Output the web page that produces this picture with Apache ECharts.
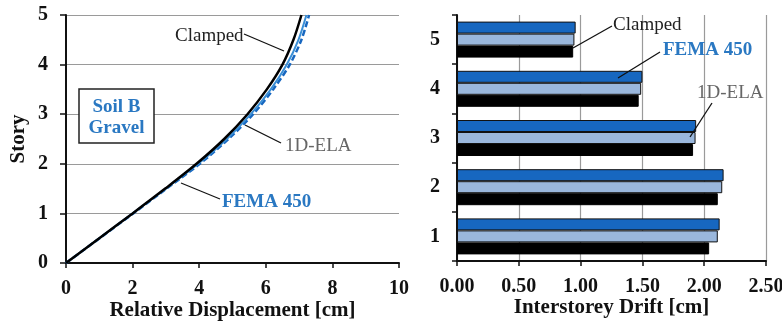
<!DOCTYPE html>
<html><head><meta charset="utf-8">
<script src="https://cdn.jsdelivr.net/npm/echarts@6/dist/echarts.min.js"></script>
<style>html,body{margin:0;padding:0;background:#fff}#c{width:782px;height:322px}</style>
</head><body><div id="c"></div>
<script>
// Left panel: relative displacement profile
const stories = [0, 0.5, 1, 1.5, 2, 2.5, 3, 3.5, 4, 4.5, 5];
const dispClamped = [0, 1.0, 2.0, 2.98, 3.92, 4.75, 5.45, 6.03, 6.5, 6.83, 7.07];
const dispFema = [0, 1.0, 2.0, 3.0, 3.97, 4.83, 5.55, 6.15, 6.63, 6.98, 7.22];
const dispEla = [0, 1.01, 2.02, 3.02, 4.02, 4.88, 5.62, 6.22, 6.72, 7.07, 7.3];
const dispTicks = [0, 2, 4, 6, 8, 10];
const storyTicks = [0, 1, 2, 3, 4, 5];

// Right panel: interstorey drift
const driftCategories = ['1', '2', '3', '4', '5'];
const driftFema = [2.125, 2.157, 1.935, 1.50, 0.96];
const driftEla = [2.11, 2.146, 1.93, 1.49, 0.95];
const driftClamped = [2.04, 2.11, 1.91, 1.47, 0.94];
const driftTicks = ['0.00', '0.50', '1.00', '1.50', '2.00', '2.50'];

const serif = '"Liberation Serif", "DejaVu Serif", serif';
const blue = '#1767c0';
const lightBlue = '#9ab7dc';
const textBlue = '#2a78c2';

function pairs(xs) { return xs.map((x, i) => [x, stories[i]]); }

const chart = echarts.init(document.getElementById('c'), null, {renderer: 'canvas'});
const tickLabelL = {fontFamily: serif, fontWeight: 'bold', fontSize: 20, color: '#111'};
const tickLabelR = {fontFamily: serif, fontWeight: 'bold', fontSize: 20, color: '#111'};
const axisName = {fontFamily: serif, fontWeight: 'bold', fontSize: 21, color: '#111'};

function seg(x1, y1, x2, y2) {
  return {type: 'line', shape: {x1, y1, x2, y2}, style: {stroke: '#111', lineWidth: 1.3}, z: 50};
}
function txt(x, y, t, color, bold, align) {
  return {type: 'text', x, y, z: 50, style: {text: t, fill: color, font: (bold ? 'bold ' : '') + '19px ' + serif, textAlign: align || 'left', textVerticalAlign: 'middle'}};
}

chart.setOption({
  animation: false,
  grid: [
    {left: 66, width: 333, top: 15, height: 248, containLabel: false, outerBoundsMode: 'none'},
    {left: 457, width: 309, top: 15, height: 246, containLabel: false, outerBoundsMode: 'none'}
  ],
  xAxis: [
    {type: 'value', gridIndex: 0, min: 0, max: 10, interval: 2,
     name: 'Relative Displacement [cm]', nameLocation: 'middle', nameGap: 37, nameMoveOverlap: false, nameTextStyle: axisName,
     axisLine: {show: true, lineStyle: {color: '#111', width: 2}},
     axisTick: {show: true, length: 5, lineStyle: {color: '#111', width: 1.5}},
     axisLabel: Object.assign({margin: 16, formatter: v => dispTicks.includes(v) ? String(v) : ''}, tickLabelL),
     splitLine: {show: false}},
    {type: 'value', gridIndex: 1, min: 0, max: 2.5, interval: 0.5,
     name: 'Interstorey Drift [cm]', nameLocation: 'middle', nameGap: 36, nameMoveOverlap: false, nameTextStyle: axisName,
     axisLine: {show: true, lineStyle: {color: '#111', width: 2}},
     axisTick: {show: true, length: 5, lineStyle: {color: '#111', width: 1.5}},
     axisLabel: Object.assign({margin: 16, formatter: v => driftTicks[Math.round(v / 0.5)]}, tickLabelR),
     splitLine: {show: true, lineStyle: {color: '#9a9a9a', width: 1.2}}}
  ],
  yAxis: [
    {type: 'value', gridIndex: 0, min: 0, max: 5, interval: 1,
     name: 'Story', nameLocation: 'middle', nameGap: 37, nameRotate: 90, nameMoveOverlap: false, nameTextStyle: axisName,
     axisLine: {show: true, lineStyle: {color: '#111', width: 2}},
     axisTick: {show: true, length: 6, lineStyle: {color: '#111', width: 1.5}},
     axisLabel: Object.assign({margin: 18, formatter: v => storyTicks.includes(v) ? String(v) : ''}, tickLabelL),
     splitLine: {show: true, lineStyle: {color: '#9a9a9a', width: 1.2}}},
    {type: 'category', gridIndex: 1, data: driftCategories,
     axisLine: {show: true, lineStyle: {color: '#111', width: 2}},
     axisTick: {show: true, length: 5, lineStyle: {color: '#111', width: 1.5}},
     axisLabel: Object.assign({margin: 17}, tickLabelR),
     splitLine: {show: false}}
  ],
  series: [
    {name: '1D-ELA', type: 'line', xAxisIndex: 0, yAxisIndex: 0, data: pairs(dispEla), smooth: 0.3, showSymbol: false,
     lineStyle: {color: blue, width: 2.5, type: [6, 3]}},
    {name: 'FEMA 450', type: 'line', xAxisIndex: 0, yAxisIndex: 0, data: pairs(dispFema), smooth: 0.3, showSymbol: false,
     lineStyle: {color: '#3a8fd6', width: 2}},
    {name: 'Clamped', type: 'line', xAxisIndex: 0, yAxisIndex: 0, data: pairs(dispClamped), smooth: 0.3, showSymbol: false,
     lineStyle: {color: '#000', width: 2.5}},
    {name: 'FEMA 450 bar', type: 'bar', xAxisIndex: 1, yAxisIndex: 1, data: driftFema, barWidth: 12, barGap: '0%',
     itemStyle: {color: blue, borderColor: '#111', borderWidth: 1}},
    {name: '1D-ELA bar', type: 'bar', xAxisIndex: 1, yAxisIndex: 1, data: driftEla, barWidth: 12, barGap: '0%',
     itemStyle: {color: lightBlue, borderColor: '#111', borderWidth: 1}},
    {name: 'Clamped bar', type: 'bar', xAxisIndex: 1, yAxisIndex: 1, data: driftClamped, barWidth: 12, barGap: '0%',
     itemStyle: {color: '#000', borderColor: '#000', borderWidth: 1}}
  ],
  graphic: [
    // left panel annotations
    txt(175, 36, 'Clamped', '#222', false),
    seg(244, 34, 284, 51),
    txt(285, 146, '1D-ELA', '#666', false),
    seg(281, 143, 245, 125),
    txt(222, 202, 'FEMA 450', textBlue, true),
    seg(220, 199, 181, 183),
    {type: 'rect', shape: {x: 79, y: 89, width: 75, height: 54}, style: {fill: '#fff', stroke: '#222', lineWidth: 1.5}, z: 40},
    txt(116.5, 107, 'Soil B', textBlue, true, 'center'),
    txt(116.5, 128, 'Gravel', textBlue, true, 'center'),
    // right panel annotations
    txt(613, 25, 'Clamped', '#222', false),
    seg(612, 26, 573, 48),
    txt(663, 50, 'FEMA 450', textBlue, true),
    seg(660, 52, 618, 78),
    txt(697, 93, '1D-ELA', '#666', false),
    seg(712, 103, 690, 137)
  ]
});
</script></body></html>
